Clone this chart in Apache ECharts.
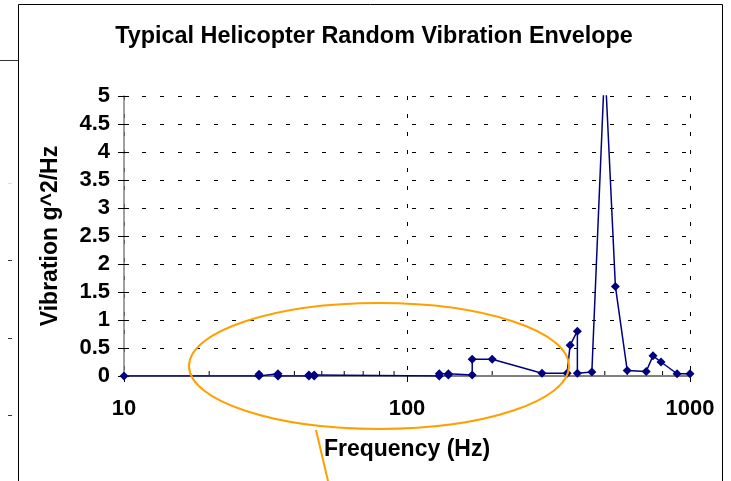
<!DOCTYPE html>
<html>
<head>
<meta charset="utf-8">
<script src="https://cdn.jsdelivr.net/npm/echarts@6/dist/echarts.min.js"></script>
<style>
  html, body { margin: 0; padding: 0; background: #fff; }
  #chart { width: 731px; height: 481px; }
</style>
</head>
<body>
<div id="chart"></div>
<script>
// Envelope breakpoints, in drawing order (frequency in Hz, level in g^2/Hz)
const frequencies = [10, 30, 30, 35, 35, 45, 45, 47, 47, 130, 130, 140, 140, 170, 170, 200, 300, 368, 377, 400, 400, 450, 500, 545, 600, 700, 740, 790, 900, 1000];
const levels      = [0, 0, 0.03, 0.04, 0, 0, 0.02, 0.02, 0, 0, 0.04, 0.04, 0.02, 0.02, 0.3, 0.3, 0.05, 0.05, 0.55, 0.8, 0.05, 0.07, 5.6, 1.6, 0.1, 0.08, 0.36, 0.25, 0.04, 0.04];

// Minor grid ticks on the logarithmic frequency axis
const minorTickFreqs = [20, 30, 40, 50, 60, 70, 80, 90, 200, 300, 400, 500, 600, 700, 800, 900];

const titleText = 'Typical Helicopter Random Vibration Envelope';
const xName = 'Frequency (Hz)';
const yName = 'Vibration g^2/Hz';

const FONT = '"Liberation Sans", Arial, sans-serif';
const dashed = { color: '#000', width: 1, type: [4, 14] };

const chart = echarts.init(document.getElementById('chart'), null, { renderer: 'canvas' });

const option = {
  animation: false,
  backgroundColor: '#fff',
  grid: { left: 124, right: 41, top: 96, bottom: 105, containLabel: false },
  xAxis: {
    type: 'log',
    logBase: 10,
    min: 10,
    max: 1000,
    name: xName,
    nameLocation: 'middle',
    nameGap: 62,
    nameTextStyle: { fontFamily: FONT, fontWeight: 'bold', fontSize: 23, color: '#000' },
    axisLine: { lineStyle: { color: '#808080', width: 2 } },
    axisTick: { show: true, inside: false, length: 6, lineStyle: { color: '#000', width: 1 } },
    axisLabel: {
      fontFamily: FONT, fontWeight: 'bold', fontSize: 22, color: '#000', margin: 22,
      formatter: v => String(Math.round(v))
    },
    splitLine: { show: true, lineStyle: dashed },
    minorTick: { show: false },
    minorSplitLine: { show: false }
  },
  yAxis: [
    {
      type: 'value',
      min: 0,
      max: 5,
      interval: 0.5,
      name: yName,
      nameLocation: 'middle',
      nameGap: 62,
      nameRotate: 90,
      nameTextStyle: { fontFamily: FONT, fontWeight: 'bold', fontSize: 23, color: '#000' },
      axisLine: { show: true, lineStyle: { color: '#808080', width: 1.5 } },
      axisTick: { show: true, inside: false, length: 6, lineStyle: { color: '#000', width: 1 } },
      axisLabel: { fontFamily: FONT, fontWeight: 'bold', fontSize: 22, color: '#000', margin: 14 },
      splitLine: { show: true, lineStyle: dashed }
    },
    {
      // inner half of the crossing y ticks
      type: 'value',
      min: 0,
      max: 5,
      interval: 0.5,
      position: 'left',
      axisLine: { show: false },
      axisTick: { show: true, inside: true, length: 5, lineStyle: { color: '#000', width: 1 } },
      axisLabel: { show: false },
      splitLine: { show: false }
    }
  ],
  series: [
    {
      type: 'custom',
      name: 'minorTicks',
      silent: true,
      clip: false,
      z: 1,
      data: minorTickFreqs.map(f => [f, 0]),
      renderItem: function (params, api) {
        const p = api.coord([api.value(0), api.value(1)]);
        return {
          type: 'line',
          shape: { x1: p[0], y1: p[1] - 1, x2: p[0], y2: p[1] - 5 },
          style: { stroke: '#000', lineWidth: 1 }
        };
      }
    },
    {
      type: 'line',
      name: 'Envelope',
      z: 3,
      data: frequencies.map((f, i) => [f, levels[i]]),
      symbol: 'diamond',
      symbolSize: 9,
      clip: true,
      itemStyle: { color: '#000080' },
      lineStyle: { color: '#000080', width: 1.5 }
    }
  ],
  graphic: [
    {
      type: 'text',
      x: 374,
      y: 37,
      style: {
        text: titleText,
        fontFamily: FONT,
        fontWeight: 'bold',
        fontSize: 23.4,
        fill: '#000',
        textAlign: 'center',
        textVerticalAlign: 'middle'
      }
    },
    // page frame around the chart
    {
      type: 'rect',
      shape: { x: 18.5, y: 4.5, width: 704, height: 500 },
      style: { fill: 'none', stroke: '#000', lineWidth: 1 },
      silent: true
    },
    {
      type: 'line',
      shape: { x1: 0, y1: 60.5, x2: 18, y2: 60.5 },
      style: { stroke: '#333', lineWidth: 1 }
    },
    { type: 'line', shape: { x1: 8, y1: 183.5, x2: 12, y2: 183.5 }, style: { stroke: '#ddd', lineWidth: 1 } },
    { type: 'line', shape: { x1: 8, y1: 260.5, x2: 12, y2: 260.5 }, style: { stroke: '#333', lineWidth: 1 } },
    { type: 'line', shape: { x1: 8, y1: 338.5, x2: 12, y2: 338.5 }, style: { stroke: '#333', lineWidth: 1 } },
    { type: 'line', shape: { x1: 8, y1: 415.5, x2: 12, y2: 415.5 }, style: { stroke: '#333', lineWidth: 1 } },
    // orange callout ring and its leader
    {
      type: 'ellipse',
      shape: { cx: 379, cy: 366, rx: 190, ry: 63 },
      style: { fill: 'none', stroke: '#FFA000', lineWidth: 2 },
      z: 10
    },
    {
      type: 'line',
      shape: { x1: 316, y1: 430, x2: 328, y2: 481 },
      style: { stroke: '#FFA000', lineWidth: 2 },
      z: 10
    }
  ]
};

chart.setOption(option);
</script>
</body>
</html>
